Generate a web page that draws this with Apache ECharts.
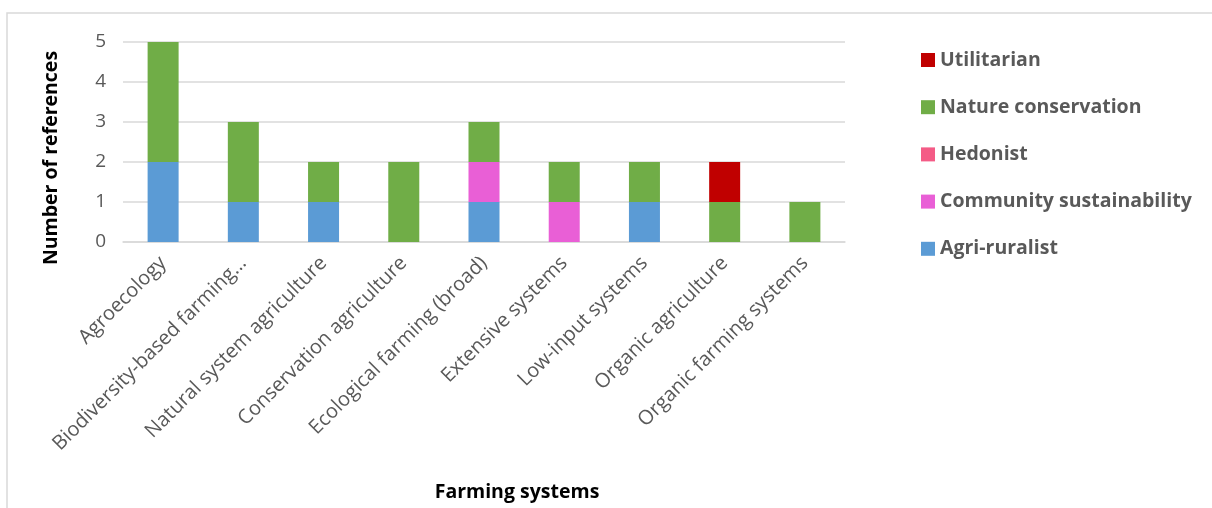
<!DOCTYPE html>
<html>
<head>
<meta charset="utf-8">
<script src="https://cdn.jsdelivr.net/npm/echarts@6/dist/echarts.min.js"></script>
<style>
html,body{margin:0;padding:0;background:#fff;}
#chart{width:1212px;height:508px;}
</style>
</head>
<body>
<div id="chart"></div>
<script>
const categories = ["Agroecology","Biodiversity-based farming…","Natural system agriculture","Conservation agriculture","Ecological farming (broad)","Extensive systems","Low-input systems","Organic agriculture","Organic farming systems"];
const agriRuralist = [2,1,1,0,1,0,1,0,0];
const communitySustainability = [0,0,0,0,1,1,0,0,0];
const hedonist = [0,0,0,0,0,0,0,0,0];
const natureConservation = [3,2,1,2,1,1,1,1,1];
const utilitarian = [0,0,0,0,0,0,0,1,0];
const legendOrder = ["Utilitarian","Nature conservation","Hedonist","Community sustainability","Agri-ruralist"];

const FONT = '"Open Sans", sans-serif';
const chart = echarts.init(document.getElementById('chart'));
function s(name, data, color){
  return {name, type:'bar', stack:'total', data, barWidth:31, itemStyle:{color}};
}
chart.setOption({
  animation:false,
  graphic:[{type:'rect', shape:{x:7,y:13,width:1215,height:510}, style:{fill:'none', stroke:'#d9d9d9', lineWidth:1.5}, silent:true}],
  grid:{left:123, right:367, top:42, bottom:266},
  legend:{
    orient:'vertical', left:916, top:45, itemWidth:14, itemHeight:14, itemGap:27.2,
    data:legendOrder,
    textStyle:{fontFamily:FONT, fontSize:19.5, fontWeight:'bold', color:'#595959'},
    icon:'rect'
  },
  xAxis:{
    type:'category', data:categories,
    name:'Farming systems', nameLocation:'middle', nameGap:240,
    nameTextStyle:{fontFamily:FONT, fontSize:19.5, fontWeight:'bold', color:'#000', padding:[0,0,0,66]},
    axisLine:{lineStyle:{color:'#d9d9d9', width:1.5}},
    axisTick:{show:false},
    axisLabel:{rotate:45, interval:0, fontFamily:FONT, fontSize:20, color:'#595959', margin:18}
  },
  yAxis:{
    type:'value', min:0, max:5, interval:1,
    name:'Number of references', nameLocation:'middle', nameGap:62,
    nameTextStyle:{fontFamily:FONT, fontSize:19.5, fontWeight:'bold', color:'#000', padding:[0,32,0,0]},
    axisLabel:{fontFamily:FONT, fontSize:19, color:'#595959', margin:17},
    splitLine:{lineStyle:{color:'#d9d9d9', width:1.5}}
  },
  series:[
    s('Agri-ruralist', agriRuralist, '#5B9BD5'),
    s('Community sustainability', communitySustainability, '#E95FD6'),
    s('Hedonist', hedonist, '#F45B86'),
    s('Nature conservation', natureConservation, '#70AD47'),
    s('Utilitarian', utilitarian, '#C00000')
  ]
});
</script>
</body>
</html>
